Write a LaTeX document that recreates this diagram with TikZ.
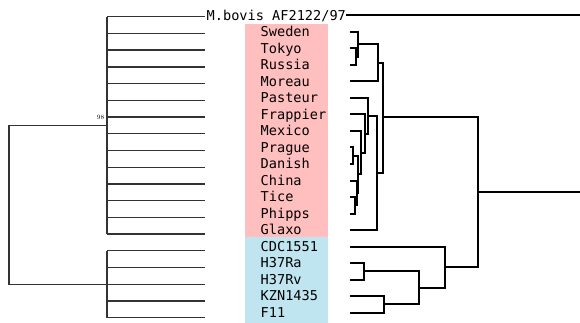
\documentclass[tikz,border=0pt]{standalone}
\usepackage{fontspec}
\newfontfamily\labfont{DejaVu Sans Mono}
\definecolor{pinkbg}{RGB}{255,191,191}
\definecolor{bluebg}{RGB}{191,230,240}
\begin{document}
\begin{tikzpicture}[x=1pt,y=-1pt,
  lab/.style={anchor=west,inner sep=0pt,text height=9.8pt,text depth=0pt,font=\labfont\fontsize{13.6}{13.6}\selectfont},
  ltree/.style={line width=1.3pt,draw=black!80},
  rtree/.style={line width=2pt,draw=black}]
\useasboundingbox (0,0) rectangle (580,323);
% background bands
\fill[pinkbg] (245,24) rectangle (328,237);
\fill[bluebg] (245,237) rectangle (328,322.5);
% ---------- left tree ----------
\foreach \i in {0,...,18}{
  \coordinate (L\i a) at (107,{16.7+16.72*\i});
  \coordinate (L\i b) at (205,{16.7+16.72*\i});
  \draw[ltree] (L\i a) -- (L\i b);
}
\coordinate (LU) at (107,125.38);
\coordinate (LL) at (107,284.22);
\coordinate (Lroot) at (9,204.8);
\draw[ltree] (L0a) -- (L13a);
\draw[ltree] (L14a) -- (L18a);
\draw[ltree] (LU) -| (Lroot) |- (LL);
\node[inner sep=0pt,font=\fontsize{6.5}{6.5}\selectfont,anchor=east] (bs) at (104.5,117.5) {98};
% ---------- labels ----------
\node[lab] (lbovis) at (206.5,15.5) {M.bovis AF2122/97};
\node[lab] (l1) at (260.5,32) {Sweden};
\node[lab] (l2) at (260.5,48.5) {Tokyo};
\node[lab] (l3) at (260.5,65) {Russia};
\node[lab] (l4) at (260.5,81.5) {Moreau};
\node[lab] (l5) at (260.5,98) {Pasteur};
\node[lab] (l6) at (260.5,114.5) {Frappier};
\node[lab] (l7) at (260.5,131) {Mexico};
\node[lab] (l8) at (260.5,147.5) {Prague};
\node[lab] (l9) at (260.5,164) {Danish};
\node[lab] (l10) at (260.5,180.5) {China};
\node[lab] (l11) at (260.5,197) {Tice};
\node[lab] (l12) at (260.5,213.5) {Phipps};
\node[lab] (l13) at (260.5,230) {Glaxo};
\node[lab] (l14) at (260.5,246.5) {CDC1551};
\node[lab] (l15) at (260.5,263) {H37Ra};
\node[lab] (l16) at (260.5,279.5) {H37Rv};
\node[lab] (l17) at (260.5,296) {KZN1435};
\node[lab] (l18) at (260.5,312.5) {F11};
% ---------- right tree ----------
\coordinate (bovEnd) at (580,15);
\draw[rtree] (lbovis.east |- bovEnd) -- (bovEnd);
\foreach \i in {1,...,18}{
  \coordinate (t\i) at (350,{15.5+16.5*\i});
}
% Sweden/Tokyo/Russia/Moreau
\coordinate (TR) at (356,56.75);
\coordinate (STR) at (357.5,44.375);
\coordinate (MC) at (378,62.94);
\draw[rtree] (t2) -| (TR) |- (t3);
\draw[rtree] (t1) -| (STR) |- (TR);
\draw[rtree] (STR) -| (MC) |- (t4);
% Pasteur ... Glaxo
\coordinate (PD) at (352.5,155.75);
\coordinate (TP) at (355,205.25);
\coordinate (CTP) at (356.5,192.875);
\coordinate (Q) at (358,174.3);
\coordinate (E) at (360.5,152.66);
\coordinate (D) at (365,133.58);
\coordinate (C) at (368.3,116);
\coordinate (B) at (376.7,173);
\draw[rtree] (t8) -| (PD) |- (t9);
\draw[rtree] (t11) -| (TP) |- (t12);
\draw[rtree] (t10) -| (CTP) |- (TP);
\draw[rtree] (PD) -| (Q) |- (CTP);
\draw[rtree] (t7) -| (E) |- (Q);
\draw[rtree] (t6) -| (D) |- (E);
\draw[rtree] (t5) -| (C) |- (D);
\draw[rtree] (C) -| (B) |- (t13);
\coordinate (A) at (382.5,117);
\draw[rtree] (MC) -| (A) |- (B);
% lower clade
\coordinate (HH) at (364,271.25);
\coordinate (KF) at (384,304.25);
\coordinate (HK) at (419,288);
\coordinate (CH) at (445,267);
\draw[rtree] (t15) -| (HH) |- (t16);
\draw[rtree] (t17) -| (KF) |- (t18);
\draw[rtree] (HH) -| (HK) |- (KF);
\draw[rtree] (t14) -| (CH) |- (HK);
% root
\coordinate (R) at (477.7,192);
\coordinate (Rend) at (580,192);
\draw[rtree] (A) -| (R) |- (CH);
\draw[rtree] (R) -- (Rend);
\end{tikzpicture}
\end{document}
